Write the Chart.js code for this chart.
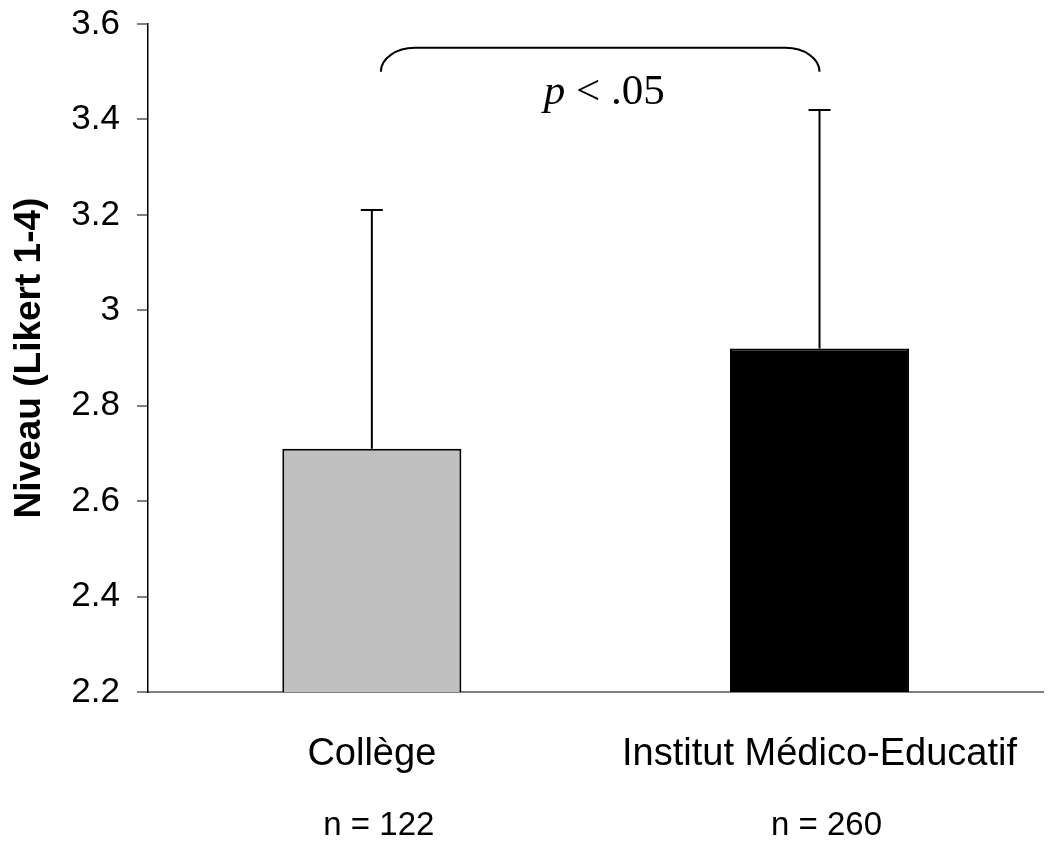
<!DOCTYPE html>
<html>
<head>
<meta charset="utf-8">
<script src="https://cdn.jsdelivr.net/npm/chart.js@4"></script>
<style>
  html, body { margin: 0; padding: 0; background: #fff; }
  #wrap { width: 1061px; height: 842px; position: relative; }
</style>
</head>
<body>
<div id="wrap"><canvas id="grafico"></canvas></div>
<script>
const categorias = ['Collège', 'Institut Médico-Educatif'];
const effectifs = ['n = 122', 'n = 260'];
const moyennes = [2.71, 2.92];
const ecarts = [0.50, 0.50];
const couleurs = ['#c0c0c0', '#000000'];
const yMin = 2.2, yMax = 3.6, yPas = 0.2;
const signif = { de: 0, a: 1, haut: 3.55, bas: 3.50 };

const arial = "'Liberation Sans', Arial, sans-serif";
const times = "'Liberation Serif', 'Times New Roman', serif";

// barres d'erreur (vers le haut seulement), accolade p < .05 et effectifs
const annotations = {
    id: 'annotations',
    afterDatasetsDraw(chart) {
        const ctx = chart.ctx;
        const x = chart.scales.x;
        const y = chart.scales.y;
        const barres = chart.getDatasetMeta(0).data;

        ctx.save();
        ctx.strokeStyle = '#000';
        ctx.lineWidth = 2;
        barres.forEach((b, i) => {
            const yHaut = y.getPixelForValue(moyennes[i] + ecarts[i]);
            ctx.beginPath();
            ctx.moveTo(b.x, b.y);
            ctx.lineTo(b.x, yHaut);
            ctx.moveTo(b.x - 11, yHaut);
            ctx.lineTo(b.x + 11, yHaut);
            ctx.stroke();
        });

        // accolade
        const g = x.getPixelForValue(signif.de) + 9;
        const d = x.getPixelForValue(signif.a);
        const h = y.getPixelForValue(signif.haut);
        const bas = y.getPixelForValue(signif.bas);
        const rx = 34, ry = bas - h, k = 0.5523;
        ctx.beginPath();
        ctx.moveTo(g, bas);
        ctx.bezierCurveTo(g, bas - ry * k, g + rx - rx * k, h, g + rx, h);
        ctx.lineTo(d - rx, h);
        ctx.bezierCurveTo(d - rx + rx * k, h, d, bas - ry * k, d, bas);
        ctx.stroke();

        // texte p < .05
        ctx.fillStyle = '#000';
        ctx.textBaseline = 'alphabetic';
        ctx.textAlign = 'left';
        ctx.font = 'italic 43px ' + times;
        const wP = ctx.measureText('p').width;
        ctx.font = '43px ' + times;
        const reste = ' < .05';
        const wR = ctx.measureText(reste).width;
        const cx = (g + d) / 2 + 4;
        const x0 = cx - (wP + wR) / 2;
        const base = h + 56;
        ctx.font = 'italic 43px ' + times;
        ctx.fillText('p', x0, base);
        ctx.font = '43px ' + times;
        ctx.fillText(reste, x0 + wP, base);

        // effectifs
        ctx.font = '33px ' + arial;
        ctx.textAlign = 'center';
        effectifs.forEach((t, i) => {
            ctx.fillText(t, x.getPixelForValue(i) + 7, chart.chartArea.bottom + 143);
        });
        ctx.restore();
    }
};

new Chart(document.getElementById('grafico'), {
    type: 'bar',
    data: {
        labels: categorias,
        datasets: [{
            data: moyennes,
            backgroundColor: couleurs,
            borderColor: '#000',
            borderWidth: 2,
            borderSkipped: false,
            barPercentage: 0.4,
            categoryPercentage: 1
        }]
    },
    options: {
        responsive: true,
        maintainAspectRatio: false,
        animation: false,
        layout: { padding: { top: 24, right: 16, left: 0, bottom: 0 } },
        plugins: {
            legend: { display: false },
            tooltip: { enabled: false }
        },
        scales: {
            x: {
                afterFit: s => { s.height = 150; },
                grid: { display: false, drawTicks: false, tickLength: 0 },
                border: { display: true, color: '#808080', width: 2 },
                ticks: {
                    color: '#000',
                    padding: 40,
                    font: { family: arial, size: 38 }
                }
            },
            y: {
                min: yMin,
                max: yMax,
                afterFit: s => { s.width = 148; s.paddingTop = 0; s.paddingBottom = 0; },
                grid: {
                    display: true,
                    drawOnChartArea: false,
                    drawTicks: true,
                    tickLength: 11,
                    color: '#808080',
                    lineWidth: 2
                },
                border: { display: true, color: '#000', width: 1.5 },
                ticks: {
                    stepSize: yPas,
                    color: '#000',
                    padding: 17,
                    font: { family: arial, size: 35 },
                    callback: v => String(Math.round(v * 10) / 10)
                },
                title: {
                    display: true,
                    text: 'Niveau (Likert 1-4)',
                    color: '#000',
                    padding: { top: 8, bottom: 0 },
                    font: { family: arial, size: 37, weight: 'bold' }
                }
            }
        }
    },
    plugins: [annotations]
});
</script>
</body>
</html>
